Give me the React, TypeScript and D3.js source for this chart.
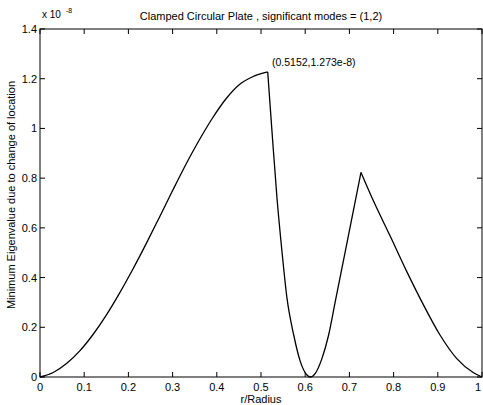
import React from "react";
import * as d3 from "d3";

const W = 483;
const H = 405;

// r/Radius positions and minimum eigenvalue (x 1e-8)
const riseX = [0, 0.03, 0.06, 0.09, 0.12, 0.15, 0.18, 0.21, 0.24, 0.27, 0.3, 0.33, 0.36, 0.39, 0.42, 0.45, 0.48, 0.5152];
const riseY = [0, 0.018, 0.054, 0.105, 0.171, 0.249, 0.3375, 0.4335, 0.5355, 0.642, 0.75, 0.855, 0.9525, 1.041, 1.1175, 1.175, 1.207, 1.2273];

const dipX = [0.5152, 0.5249, 0.5362, 0.5475, 0.5588, 0.574, 0.589, 0.604, 0.611, 0.6229, 0.638, 0.653, 0.668, 0.683, 0.698, 0.7134, 0.7262];
const dipY = [1.2273, 0.987, 0.719, 0.504, 0.317, 0.169, 0.062, 0.008, 0.0, 0.015, 0.075, 0.169, 0.303, 0.437, 0.571, 0.709, 0.823];

const fallX = [0.7262, 0.754, 0.792, 0.8296, 0.867, 0.905, 0.943, 0.98, 1.0];
const fallY = [0.823, 0.71, 0.568, 0.425, 0.292, 0.169, 0.074, 0.018, 0.0];

const xTicks = [0, 0.1, 0.2, 0.3, 0.4, 0.5, 0.6, 0.7, 0.8, 0.9, 1];
const yTicks = [0, 0.2, 0.4, 0.6, 0.8, 1, 1.2, 1.4];

const titleText = "Clamped Circular Plate , significant modes = (1,2)";
const xLabel = "r/Radius";
const yLabel = "Minimum Eigenvalue due to change of location";
const annotation = "(0.5152,1.273e-8)";

export default function App() {
  const left = 40, right = 482, top = 29, bottom = 377;
  const x = d3.scaleLinear().domain([0, 1]).range([left, right]);
  const y = d3.scaleLinear().domain([0, 1.4]).range([bottom, top]);
  const line = d3
    .line<[number, number]>()
    .x((d) => x(d[0]))
    .y((d) => y(d[1]))
    .curve(d3.curveMonotoneX);
  const seg = (xs: number[], ys: number[]) =>
    line(xs.map((v, i) => [v, ys[i]] as [number, number])) || "";
  const font = "Liberation Sans, Arial, sans-serif";
  const tl = 5;
  const fmt = (v: number) => String(v);

  return (
    <svg width={W} height={H} style={{ position: "absolute", left: 0, top: 0 }} fontFamily={font}>
      <rect x={0} y={0} width={W} height={H} fill="#fff" />
      <rect x={left} y={top} width={right - left} height={bottom - top} fill="none" stroke="#000" strokeWidth={1} />
      {xTicks.map((t) => (
        <g key={"x" + t}>
          <line x1={x(t)} x2={x(t)} y1={bottom} y2={bottom - tl} stroke="#000" />
          <line x1={x(t)} x2={x(t)} y1={top} y2={top + tl} stroke="#000" />
          <text x={Math.min(x(t), 478)} y={391} fontSize={11} textAnchor="middle" fill="#000">
            {fmt(t)}
          </text>
        </g>
      ))}
      {yTicks.map((t) => (
        <g key={"y" + t}>
          <line x1={left} x2={left + tl} y1={y(t)} y2={y(t)} stroke="#000" />
          <line x1={right} x2={right - tl} y1={y(t)} y2={y(t)} stroke="#000" />
          <text x={37} y={y(t) + 4} fontSize={11} textAnchor="end" fill="#000">
            {fmt(t)}
          </text>
        </g>
      ))}
      <text x={42} y={18} fontSize={10} fill="#000">
        x 10
      </text>
      <text x={66} y={13} fontSize={7} fill="#000">
        -8
      </text>
      <text x={261} y={20} fontSize={11} textAnchor="middle" fill="#000">
        {titleText}
      </text>
      <text x={261} y={403} fontSize={11} textAnchor="middle" fill="#000">
        {xLabel}
      </text>
      <text
        transform={`translate(15,${195}) rotate(-90)`}
        fontSize={11}
        textAnchor="middle"
        fill="#000"
      >
        {yLabel}
      </text>
      <text x={272} y={66} fontSize={10.5} fill="#000">
        {annotation}
      </text>
      <path d={seg(riseX, riseY)} fill="none" stroke="#000" strokeWidth={1.3} />
      <path d={seg(dipX, dipY)} fill="none" stroke="#000" strokeWidth={1.3} />
      <path d={seg(fallX, fallY)} fill="none" stroke="#000" strokeWidth={1.3} />
    </svg>
  );
}
